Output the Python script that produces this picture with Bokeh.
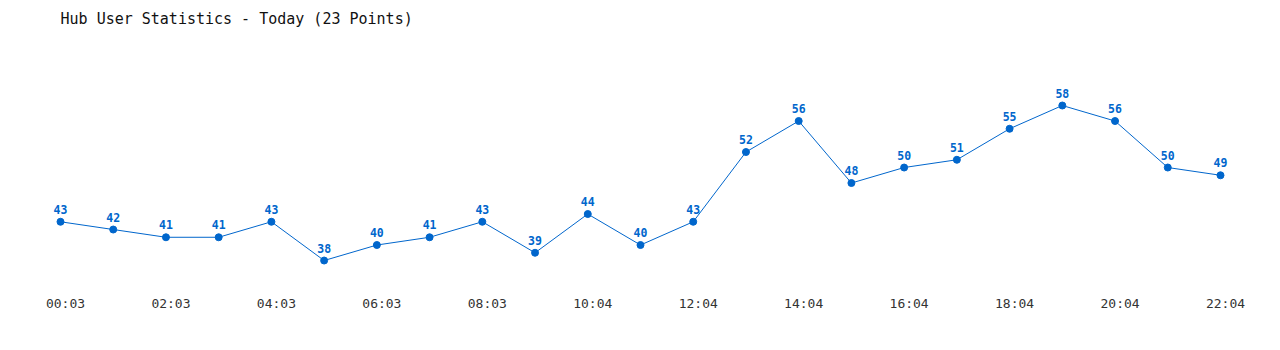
from bokeh.plotting import figure
from bokeh.models import ColumnDataSource, Range1d, Label
from bokeh.core.properties import value
from bokeh.embed import file_html
from bokeh.resources import INLINE

times = ["00:03", "01:03", "02:03", "03:03", "04:03", "05:03", "06:03", "07:03",
         "08:03", "09:03", "10:04", "11:04", "12:04", "13:04", "14:04", "15:04",
         "16:04", "17:04", "18:04", "19:04", "20:04", "21:04", "22:04"]
users = [43, 42, 41, 41, 43, 38, 40, 41, 43, 39, 44, 40, 43, 52, 56, 48, 50, 51,
         55, 58, 56, 50, 49]
title_text = "Hub User Statistics - Today (23 Points)"

idx = list(range(len(times)))
src = ColumnDataSource(dict(x=idx, y=users, lbl=[str(v) for v in users]))
tick_idx = idx[::2]
tsrc = ColumnDataSource(dict(x=tick_idx, t=[times[i] for i in tick_idx]))

COLOR = "#0066CC"
FONT = "DejaVu Sans Mono"
Y_MIN, Y_MAX = 26.39, 71.55

p = figure(width=1280, height=350, output_backend="svg", toolbar_location=None,
           x_range=Range1d(-1.138, 23.138), y_range=Range1d(Y_MIN, Y_MAX),
           min_border_left=0, min_border_right=0, min_border_top=0,
           min_border_bottom=0, outline_line_color=None)
p.grid.visible = False
p.yaxis.visible = False
p.xaxis.visible = False

p.line("x", "y", source=src, line_color=COLOR, line_width=1)
p.scatter("x", "y", source=src, size=7, fill_color=COLOR, line_color=COLOR)
p.text("x", "y", text="lbl", source=src, text_align="center", text_baseline="bottom",
       y_offset=-8, text_font=value(FONT), text_font_style="bold",
       text_font_size="11.5px", text_color=COLOR)

# time labels along the bottom
p.text("x", 32.45, text="t", source=tsrc, text_align="center", text_baseline="middle",
       x_offset=5, text_font=value(FONT), text_font_size="13px",
       text_color="#333333")

p.add_layout(Label(x=0, y=69.2, text=title_text, text_font=FONT,
                   text_font_size="15px", text_baseline="middle",
                   text_color="#111111"))

open("out.html", "w").write(file_html(p, INLINE))
